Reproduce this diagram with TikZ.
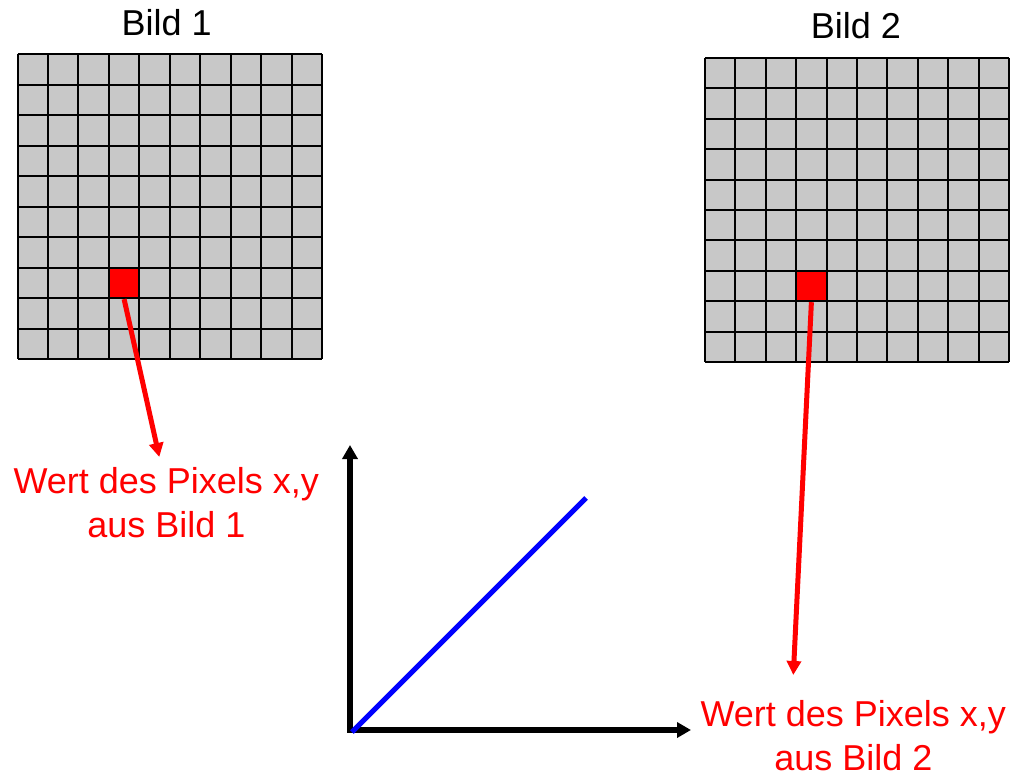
\documentclass[tikz,border=0pt]{standalone}
\usepackage{fontspec}
\setmainfont{Liberation Sans}
\usetikzlibrary{arrows.meta}
\definecolor{pixgray}{RGB}{200,200,200}
\begin{document}
\begin{tikzpicture}[x=1pt,y=-1pt,
  title/.style={inner sep=0pt,anchor=base,font=\fontsize{36}{44}\selectfont},
  vallabel/.style={inner sep=0pt,anchor=base,align=center,text=red,font=\fontsize{36}{44}\selectfont},
  redcell/.style={fill=red,draw=black,line width=2pt,minimum size=30.4pt,inner sep=0pt},
  redarrow/.style={draw=red,line width=5pt,-{Triangle[length=14pt,width=14pt]}},
  axis/.style={draw=black,line width=5.5pt,-{Triangle[length=14pt,width=15pt]}},
]
\useasboundingbox (0,0) rectangle (1013,778);

% grid 1
\fill[pixgray] (17.5,54.5) rectangle (322,359);
\foreach \i in {0,...,10} {
  \draw[line width=2pt] (17.5+\i*30.45,54.5) -- (17.5+\i*30.45,359);
  \draw[line width=2pt] (17.5,54.5+\i*30.45) -- (322,54.5+\i*30.45);
}
% grid 2
\fill[pixgray] (705,58) rectangle (1009,362);
\foreach \i in {0,...,10} {
  \draw[line width=2pt] (705+\i*30.4,58) -- (705+\i*30.4,362);
  \draw[line width=2pt] (705,58+\i*30.4) -- (1009,58+\i*30.4);
}

% red pixels
\node[redcell] (r1) at (124.1,282.9) {};
\node[redcell] (r2) at (811.4,286) {};

% titles
\node[title] (t1) at (166.7,36) {Bild 1};
\node[title] (t2) at (855.8,38.3) {Bild 2};

% value labels
\node[vallabel] (l1) at (166.3,537.3) {Wert des Pixels x,y\\aus Bild 1};
\node[vallabel] (l2) at (853.3,770.7) {Wert des Pixels x,y\\aus Bild 2};

% arrows from pixels
\coordinate (e1) at (159.3,457);
\coordinate (e2) at (793.3,675);
\draw[redarrow] ([yshift=0pt]r1.south) -- (e1);
\draw[redarrow] (r2.south) -- (e2);

% axes
\coordinate (o) at (350,730);
\coordinate (ytip) at (350,445);
\coordinate (xtip) at (691,730);
\coordinate (bend) at (586,498);
\draw[axis] ([yshift=2.75pt]o) -- (ytip);
\draw[axis] ([xshift=-2.75pt]o) -- (xtip);
\draw[blue,line width=5pt] ([xshift=2pt,yshift=-2pt]o) -- (bend);
\end{tikzpicture}
\end{document}
